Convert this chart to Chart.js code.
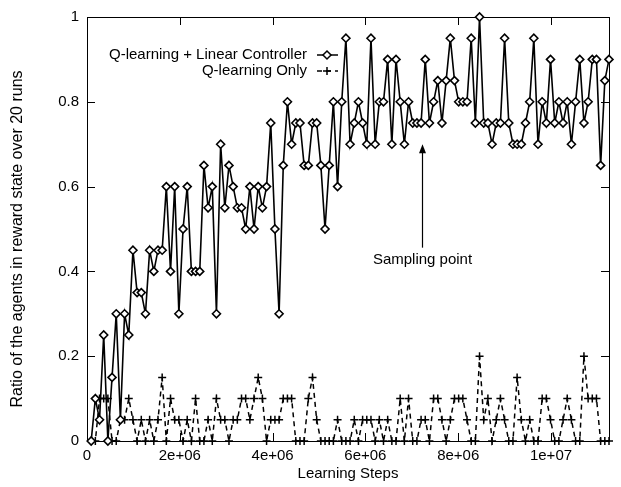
<!DOCTYPE html>
<html>
<head>
<meta charset="utf-8">
<script src="https://cdn.jsdelivr.net/npm/chart.js@4.4.1/dist/chart.umd.min.js"></script>
<style>
  html, body { margin: 0; padding: 0; background: #fff; }
  #wrap { width: 621px; height: 487px; }
</style>
</head>
<body>
<div id="wrap"><canvas id="chart" width="621" height="487"></canvas></div>
<script>
// learning steps at which both runs were sampled
const steps = [
  90000, 180000, 270000, 360000, 450000, 540000, 630000, 720000, 810000, 900000,
  990000, 1080000, 1170000, 1260000, 1350000, 1440000, 1530000, 1620000, 1710000, 1800000,
  1890000, 1980000, 2070000, 2160000, 2250000, 2340000, 2430000, 2520000, 2610000, 2700000,
  2790000, 2880000, 2970000, 3060000, 3150000, 3240000, 3330000, 3420000, 3510000, 3600000,
  3690000, 3780000, 3870000, 3960000, 4050000, 4140000, 4230000, 4320000, 4410000, 4500000,
  4590000, 4680000, 4770000, 4860000, 4950000, 5040000, 5130000, 5220000, 5310000, 5400000,
  5490000, 5580000, 5670000, 5760000, 5850000, 5940000, 6030000, 6120000, 6210000, 6300000,
  6390000, 6480000, 6570000, 6660000, 6750000, 6840000, 6930000, 7020000, 7110000, 7200000,
  7290000, 7380000, 7470000, 7560000, 7650000, 7740000, 7830000, 7920000, 8010000, 8100000,
  8190000, 8280000, 8370000, 8460000, 8550000, 8640000, 8730000, 8820000, 8910000, 9000000,
  9090000, 9180000, 9270000, 9360000, 9450000, 9540000, 9630000, 9720000, 9810000, 9900000,
  9990000, 10080000, 10170000, 10260000, 10350000, 10440000, 10530000, 10620000, 10710000, 10800000,
  10890000, 10980000, 11070000, 11160000, 11250000
];

const withController = [
  0, 0.1, 0.05, 0.25, 0, 0.15, 0.3, 0.05, 0.3, 0.25,
  0.45, 0.35, 0.35, 0.3, 0.45, 0.4, 0.45, 0.45, 0.6, 0.4,
  0.6, 0.3, 0.5, 0.6, 0.4, 0.4, 0.4, 0.65, 0.55, 0.6,
  0.3, 0.7, 0.55, 0.65, 0.6, 0.55, 0.55, 0.5, 0.6, 0.5,
  0.6, 0.55, 0.6, 0.75, 0.5, 0.3, 0.65, 0.8, 0.7, 0.75,
  0.75, 0.65, 0.65, 0.75, 0.75, 0.65, 0.5, 0.65, 0.8, 0.6,
  0.8, 0.95, 0.7, 0.75, 0.8, 0.75, 0.7, 0.95, 0.7, 0.8,
  0.8, 0.9, 0.7, 0.9, 0.8, 0.7, 0.8, 0.75, 0.75, 0.75,
  0.9, 0.75, 0.8, 0.85, 0.75, 0.85, 0.95, 0.85, 0.8, 0.8,
  0.8, 0.95, 0.75, 1.0, 0.75, 0.75, 0.7, 0.75, 0.75, 0.95,
  0.75, 0.7, 0.7, 0.7, 0.75, 0.8, 0.95, 0.7, 0.8, 0.75,
  0.9, 0.75, 0.8, 0.75, 0.8, 0.7, 0.8, 0.9, 0.75, 0.8,
  0.9, 0.9, 0.65, 0.85, 0.9
];

const qOnly = [
  0, 0, 0.1, 0.1, 0.1, 0, 0, 0.05, 0.05, 0.1,
  0.05, 0, 0.05, 0, 0.05, 0, 0.05, 0.15, 0, 0.1,
  0.05, 0.05, 0, 0.05, 0, 0.1, 0, 0, 0.05, 0,
  0.1, 0.05, 0.05, 0, 0.05, 0.05, 0.1, 0.1, 0.05, 0.1,
  0.15, 0.1, 0, 0.05, 0.05, 0.05, 0.1, 0.1, 0.1, 0,
  0, 0, 0.1, 0.15, 0.05, 0, 0, 0, 0, 0.05,
  0, 0, 0, 0.05, 0, 0.05, 0.05, 0.05, 0, 0.05,
  0, 0.05, 0, 0, 0.1, 0, 0.1, 0, 0, 0.05,
  0.05, 0, 0.1, 0.1, 0.05, 0, 0.05, 0.1, 0.1, 0.1,
  0.05, 0, 0, 0.2, 0.05, 0.1, 0, 0.05, 0.1, 0.05,
  0, 0, 0.15, 0.05, 0, 0.05, 0, 0, 0.1, 0.1,
  0.05, 0, 0, 0.05, 0.1, 0.05, 0, 0, 0.2, 0.1,
  0.1, 0.1, 0, 0, 0
];

const seriesNames = ['Q-learning + Linear Controller', 'Q-learning Only'];
const xTicks = [0, 2e6, 4e6, 6e6, 8e6, 1e7];
const xTickLabels = ['0', '2e+06', '4e+06', '6e+06', '8e+06', '1e+07'];
const yTicks = [0, 0.2, 0.4, 0.6, 0.8, 1];
const yTickLabels = ['0', '0.2', '0.4', '0.6', '0.8', '1'];
const yTitle = 'Ratio of the agents in reward state over 20 runs';
const noteText = 'Sampling point';
const noteStep = 7230000;

const FONT = '"Liberation Sans", Arial, Helvetica, sans-serif';

function toPoints(ys) {
  return ys.map((v, i) => ({ x: steps[i], y: v }));
}

function drawDiamond(ctx, x, y, r) {
  ctx.beginPath();
  ctx.moveTo(x, y - r);
  ctx.lineTo(x + r, y);
  ctx.lineTo(x, y + r);
  ctx.lineTo(x - r, y);
  ctx.closePath();
  ctx.fillStyle = '#fff';
  ctx.fill();
  ctx.stroke();
  ctx.fillStyle = '#000';
}

function drawPlus(ctx, x, y, r) {
  ctx.beginPath();
  ctx.moveTo(x - r, y); ctx.lineTo(x + r, y);
  ctx.moveTo(x, y - r); ctx.lineTo(x, y + r);
  ctx.stroke();
}

// gnuplot style frame with inward ticks on every side
const frame = {
  id: 'frame',
  beforeDatasetsDraw(chart) {
    const { ctx, chartArea: a } = chart;
    const xs = chart.scales.x, ys = chart.scales.y;
    ctx.save();
    ctx.strokeStyle = '#000';
    ctx.lineWidth = 1;
    ctx.strokeRect(a.left + 0.5, a.top + 0.5, a.right - a.left, a.bottom - a.top);
    ctx.beginPath();
    xTicks.forEach(v => {
      const px = Math.round(xs.getPixelForValue(v)) + 0.5;
      ctx.moveTo(px, a.bottom); ctx.lineTo(px, a.bottom - 8);
      ctx.moveTo(px, a.top); ctx.lineTo(px, a.top + 8);
    });
    yTicks.forEach(v => {
      const py = Math.round(ys.getPixelForValue(v)) + 0.5;
      ctx.moveTo(a.left, py); ctx.lineTo(a.left + 8, py);
      ctx.moveTo(a.right, py); ctx.lineTo(a.right - 8, py);
    });
    ctx.stroke();
    ctx.restore();
  },
  afterDraw(chart) {
    const { ctx } = chart;
    const xs = chart.scales.x, ys = chart.scales.y;
    ctx.save();
    ctx.font = '15px ' + FONT;
    ctx.fillStyle = '#000';
    ctx.strokeStyle = '#000';

    // key, top left, text right aligned with sample after it
    ctx.textAlign = 'right';
    ctx.textBaseline = 'middle';
    const keyRight = 307, keyY = [55, 71];
    ctx.fillText(seriesNames[0], keyRight, keyY[0]);
    ctx.fillText(seriesNames[1], keyRight, keyY[1]);
    ctx.lineWidth = 1.5;
    ctx.beginPath();
    ctx.moveTo(317, keyY[0]); ctx.lineTo(338, keyY[0]);
    ctx.stroke();
    drawDiamond(ctx, 327, keyY[0], 4);
    ctx.setLineDash([5, 4]);
    ctx.beginPath();
    ctx.moveTo(317, keyY[1]); ctx.lineTo(338, keyY[1]);
    ctx.stroke();
    ctx.setLineDash([]);
    drawPlus(ctx, 327, keyY[1], 4);

    // sampling point arrow
    const ax = Math.round(xs.getPixelForValue(noteStep)) + 0.5;
    const yTail = ys.getPixelForValue(0.456);
    const yTip = ys.getPixelForValue(0.70);
    ctx.fillStyle = '#000';
    ctx.lineWidth = 1.2;
    ctx.beginPath();
    ctx.moveTo(ax, yTail); ctx.lineTo(ax, yTip + 6);
    ctx.stroke();
    ctx.beginPath();
    ctx.moveTo(ax, yTip);
    ctx.lineTo(ax - 3.5, yTip + 9);
    ctx.lineTo(ax + 3.5, yTip + 9);
    ctx.closePath();
    ctx.fill();
    ctx.textAlign = 'center';
    ctx.fillText(noteText, ax, ys.getPixelForValue(0.428));

    // rotated y axis title
    ctx.font = '16px ' + FONT;
    ctx.translate(18, 239);
    ctx.rotate(-Math.PI / 2);
    ctx.fillText(yTitle, 0, 0);
    ctx.restore();
  }
};

const ctx = document.getElementById('chart').getContext('2d');
new Chart(ctx, {
  type: 'line',
  data: {
    datasets: [
      {
        label: seriesNames[0],
        data: toPoints(withController),
        borderColor: '#000',
        borderWidth: 1.6,
        pointStyle: 'rectRot',
        pointRadius: 4,
        pointBorderWidth: 1.6,
        pointBackgroundColor: '#fff',
        pointBorderColor: '#000',
        tension: 0,
        clip: false
      },
      {
        label: seriesNames[1],
        data: toPoints(qOnly),
        borderColor: '#000',
        borderWidth: 1.5,
        borderDash: [5, 4],
        pointStyle: 'cross',
        pointRadius: 4,
        pointBorderWidth: 1.5,
        pointBorderColor: '#000',
        tension: 0,
        clip: false
      }
    ]
  },
  options: {
    responsive: false,
    animation: false,
    devicePixelRatio: 1,
    layout: { padding: { top: 11, right: 12, left: 0, bottom: 0 } },
    plugins: {
      legend: { display: false },
      tooltip: { enabled: false }
    },
    scales: {
      x: {
        type: 'linear',
        min: 0,
        max: 11250000,
        afterBuildTicks: s => { s.ticks = xTicks.map(v => ({ value: v })); },
        afterFit: s => { s.height = 46; },
        grid: { display: false, drawTicks: false },
        border: { display: false },
        ticks: {
          padding: 6,
          color: '#000',
          font: { family: FONT, size: 15 },
          maxRotation: 0,
          callback: (v) => xTickLabels[xTicks.indexOf(v)]
        },
        title: {
          display: true,
          text: 'Learning Steps',
          color: '#000',
          font: { family: FONT, size: 15 },
          padding: { top: 0, bottom: 4 }
        }
      },
      y: {
        min: 0,
        max: 1,
        afterBuildTicks: s => { s.ticks = yTicks.map(v => ({ value: v })); },
        afterFit: s => { s.width = 87; },
        grid: { display: false, drawTicks: false },
        border: { display: false },
        ticks: {
          padding: 8,
          color: '#000',
          font: { family: FONT, size: 15 },
          callback: (v) => yTickLabels[yTicks.indexOf(v)]
        },
        title: { display: false }
      }
    }
  },
  plugins: [frame]
});
</script>
</body>
</html>
